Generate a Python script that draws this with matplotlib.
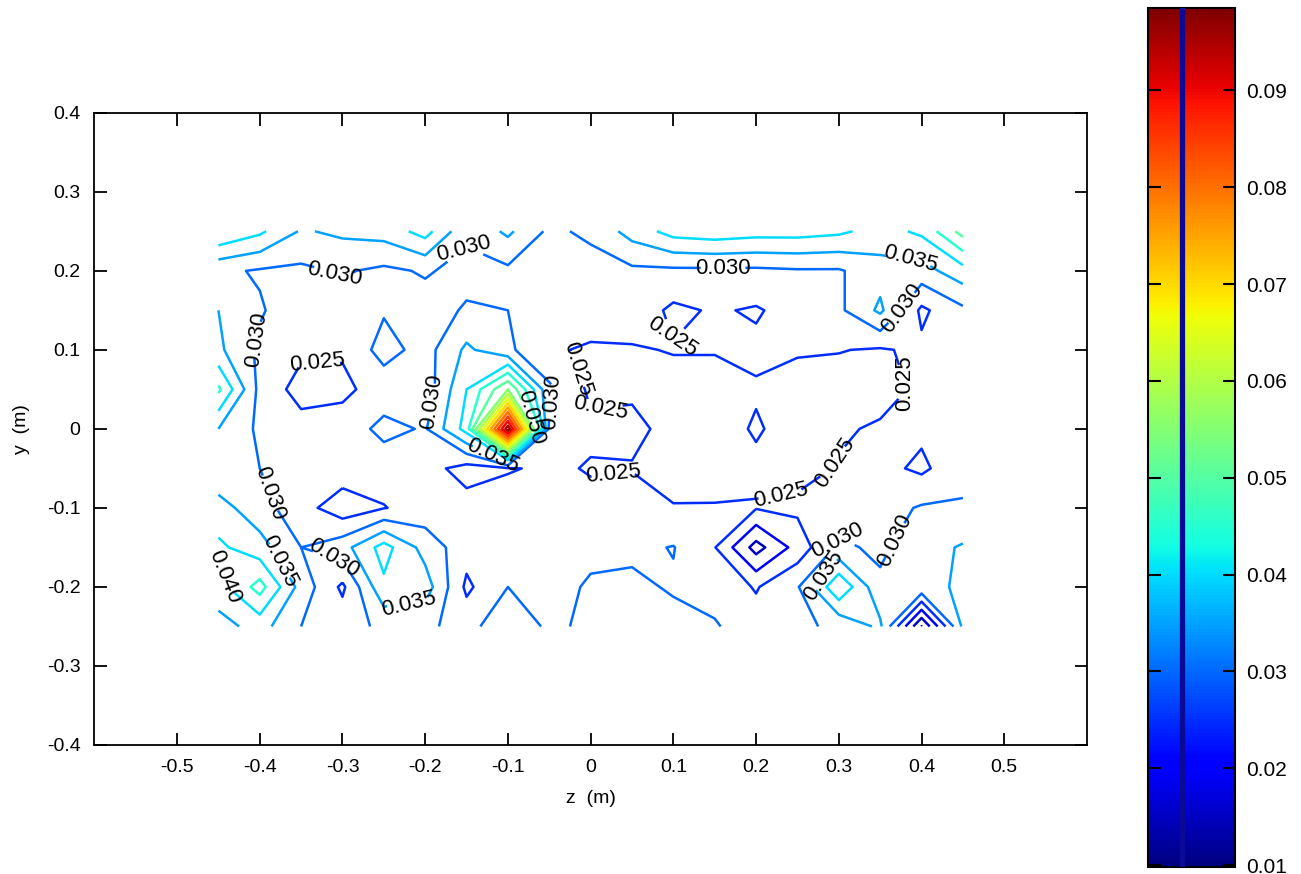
import numpy as np
import matplotlib.pyplot as plt
import matplotlib as mpl

plt.rcParams['font.family'] = ['Liberation Sans', 'DejaVu Sans']

# measurement grid (m)
z_pos = [-0.45, -0.40, -0.35, -0.30, -0.25, -0.20, -0.15, -0.10, -0.05, 0.0,
         0.05, 0.10, 0.15, 0.20, 0.25, 0.30, 0.35, 0.40, 0.45]
y_pos = [0.25, 0.20, 0.15, 0.10, 0.05, 0.0, -0.05, -0.10, -0.15, -0.20, -0.25]

# measured values, x1e-3, one row per y (top row first)
field = [
    [45, 41, 34.5, 36, 37, 42, 31, 36, 29, 31, 37, 42, 43, 42, 42, 41, 38, 41, 52],
    [31, 29.5, 29, 30.5, 29, 30.5, 28.5, 29, 28, 28, 29, 29, 29, 29, 29.5, 29.5, 33, 33, 38],
    [35, 30.5, 27, 28, 29.5, 28, 30.5, 30, 27, 27, 28, 24, 25.5, 24.5, 27, 29, 36, 24, 29],
    [36, 29, 26, 25.5, 32, 28, 36, 31, 25.5, 24.5, 24.5, 25.3, 25.3, 26, 25.5, 25.2, 24.5, 26, 28],
    [46, 28.5, 23, 24, 27, 27, 40, 55, 31, 24, 24.5, 23, 23, 24.5, 23, 23, 23.5, 25.8, 28],
    [35, 29, 27, 27, 31.5, 29.5, 42, 98.5, 29, 26, 25.8, 24, 23, 25.5, 23, 24.5, 25.5, 26, 28],
    [31, 30, 29, 28, 27, 27, 23, 24.5, 26, 24.6, 24.8, 23.5, 23, 24, 23.5, 25.3, 26.5, 24, 28.5],
    [37, 32, 27, 22, 24.8, 27, 27, 28, 27, 26.5, 27, 25.2, 25.3, 25.3, 26, 27, 28, 30.5, 30.5],
    [41, 37, 30, 33, 42, 33, 27, 28, 28, 29, 29, 30.2, 25.2, 13, 22, 31, 29, 33, 35.5],
    [38, 47, 33, 24, 39, 37.5, 24, 30, 28.5, 30.5, 31, 29.5, 28, 24.6, 29.5, 44.5, 31, 34, 35.5],
    [33, 37, 30, 28, 31, 31, 28, 34, 29, 31, 31.5, 31.5, 30.5, 27, 29, 31, 36, 9.8, 36],
]

levels = [0.010, 0.015, 0.020, 0.025, 0.030, 0.035, 0.040, 0.045, 0.050,
          0.055, 0.060, 0.065, 0.070, 0.075, 0.080, 0.085, 0.090, 0.095]
cb_ticks = [0.01, 0.02, 0.03, 0.04, 0.05, 0.06, 0.07, 0.08, 0.09]
vmin, vmax = 0.0098, 0.0985

# labelled levels and where their labels sit
labelled = {
    0.025: [(-0.33, 0.097), (-0.044, 0.068), (0.016, -0.001), (0.027, -0.052),
            (0.086, 0.113), (0.396, 0.062), (0.295, -0.043), (0.23, -0.086)],
    0.030: [(-0.303, 0.204), (-0.159, 0.233), (-0.408, 0.113), (-0.165, 0.03),
            (-0.059, 0.037), (0.16, 0.21), (0.376, 0.153), (0.264, -0.13),
            (0.366, -0.14), (-0.373, -0.077), (-0.309, -0.16)],
    0.035: [(-0.11, -0.02), (0.384, 0.204), (0.27, -0.178), (-0.373, -0.166),
            (-0.219, -0.223)],
    0.040: [(-0.433, -0.185)],
    0.050: [(-0.098, 0.005)],
}

Z, Y = np.meshgrid(z_pos, y_pos)
V = np.array(field) * 1e-3

fig = plt.figure(figsize=(13.01, 8.74), dpi=100)
ax = fig.add_axes([0.0725, 0.1476, 0.763, 0.7234])
norm = mpl.colors.Normalize(vmin=vmin, vmax=vmax)

plain = [lv for lv in levels if not any(abs(lv - k) < 1e-9 for k in labelled)]
ax.contour(Z, Y, V, levels=plain, cmap='jet', norm=norm, linewidths=1.8)
for lev, spots in labelled.items():
    cl = ax.contour(Z, Y, V, levels=[lev], cmap='jet', norm=norm, linewidths=1.8)
    ax.clabel(cl, fmt='%.3f', fontsize=16, colors='k', inline=True,
              inline_spacing=2, manual=spots)

ax.set_xlim(-0.6, 0.6)
ax.set_ylim(-0.4, 0.4)
ax.set_xticks([-0.5, -0.4, -0.3, -0.2, -0.1, 0, 0.1, 0.2, 0.3, 0.4, 0.5])
ax.set_xticklabels(['-0.5', '-0.4', '-0.3', '-0.2', '-0.1', '0', '0.1', '0.2',
                    '0.3', '0.4', '0.5'])
ax.set_yticks([-0.4, -0.3, -0.2, -0.1, 0, 0.1, 0.2, 0.3, 0.4])
ax.set_yticklabels(['-0.4', '-0.3', '-0.2', '-0.1', '0', '0.1', '0.2', '0.3', '0.4'])
ax.tick_params(direction='in', length=9, width=1.3, labelsize=14,
               top=True, right=True, pad=10)
for s in ax.spines.values():
    s.set_linewidth(1.3)
ax.set_xlabel('z  (m)', fontsize=14, labelpad=10)
ax.set_ylabel('y  (m)', fontsize=14, labelpad=12)

# colour bar
cax = fig.add_axes([0.8824, 0.008, 0.0669, 0.9828])
sm = mpl.cm.ScalarMappable(norm=norm, cmap='jet')
cb = fig.colorbar(sm, cax=cax)
cb.set_ticks(cb_ticks)
cb.set_ticklabels(['0.01', '0.02', '0.03', '0.04', '0.05', '0.06', '0.07',
                   '0.08', '0.09'])
cax.tick_params(direction='in', length=9, width=1.5, labelsize=15,
                left=True, right=True, pad=8)
cb.outline.set_linewidth(1.5)
cax.axvline(0.39, color='#0a0a96', linewidth=3.8, zorder=5)

fig.savefig('out.png', dpi=100)
